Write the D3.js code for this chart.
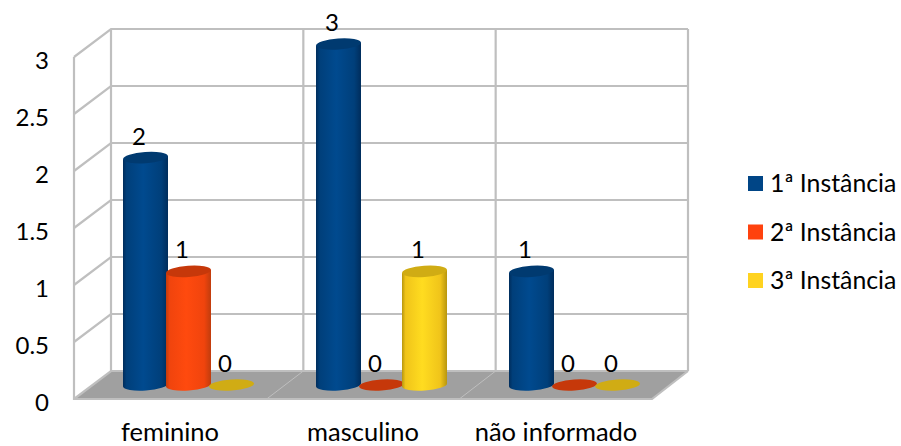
<!DOCTYPE html>
<html><head><meta charset="utf-8">
<script src="https://cdn.jsdelivr.net/npm/d3@7"></script>
<style>html,body{margin:0;background:#fff}svg{display:block}text{font-family:Lato,"Open Sans",sans-serif;fill:#000}</style>
</head><body><svg id="c" width="901" height="446"></svg>
<script>
const categories = ["feminino", "masculino", "não informado"];
const seriesNames = ["1ª Instância", "2ª Instância", "3ª Instância"];
const instancia1 = [2, 3, 1];
const instancia2 = [1, 0, 0];
const instancia3 = [0, 1, 0];
const yTicks = [0, 0.5, 1, 1.5, 2, 2.5, 3];
const sideColors = [["#002d5c", "#004a8f", "#003f7a"], ["#c03c0d", "#ff4a0e", "#f0440d"], ["#b8960f", "#ffdc20", "#f0c41a"]];
const topColors = ["#003a70", "#c6380a", "#d0ac14"];
const legendColors = ["#004586", "#ff420e", "#ffd320"];

const svg = d3.select("#c");
const defs = svg.append("defs");
sideColors.forEach((c, i) => {
  const g = defs.append("linearGradient").attr("id", "g" + i);
  [[0, c[0]], [.08, c[2]], [.45, c[1]], [.85, c[2]], [1, c[0]]].forEach(s =>
    g.append("stop").attr("offset", s[0]).attr("stop-color", s[1]));
});

// axis geometry
const yBack = d3.scaleLinear().domain([0, 3]).range([371, 29]);
const yFront = d3.scaleLinear().domain([0, 3]).range([399, 57]);
const yBar = d3.scaleLinear().domain([0, 3]).range([385, 44]);
const xBack = d3.scaleLinear().domain([0, 3]).range([111, 688]);
const xFront = d3.scaleLinear().domain([0, 3]).range([74, 652]);
const x0 = d3.scaleBand().domain(categories).range([92, 671]);
const x1 = d3.scaleBand().domain(d3.range(3)).range([x0.bandwidth() / 2 - 64.5, x0.bandwidth() / 2 + 64.5]);

const grid = "#bfbfbf";
const walls = svg.append("g").attr("fill", "none").attr("stroke", grid).attr("stroke-width", 2.2);

// floor
const floor = d3.path();
floor.moveTo(xFront(0), yFront(0)); floor.lineTo(xBack(0), yBack(0));
floor.lineTo(xBack(3), yBack(0)); floor.lineTo(xFront(3), yFront(0)); floor.closePath();
svg.insert("path", "g").attr("d", floor).attr("fill", "#a0a0a0");

yTicks.forEach(t => {
  walls.append("path").attr("d", d3.line()([[xFront(0), yFront(t)], [xBack(0), yBack(t)], [xBack(3), yBack(t)]]));
});
[0, 1, 2, 3].forEach(i => walls.append("path").attr("d", d3.line()([[xBack(i), yBack(0)], [xBack(i), yBack(3)]])));
[1, 2].forEach(i => walls.append("path").attr("d", d3.line()([[xFront(i), yFront(0)], [xBack(i), yBack(0)]])).attr("stroke-width", 1));
walls.append("path").attr("d", d3.line()([[xFront(0), yFront(3)], [xFront(0), yFront(0)], [xFront(3), yFront(0)], [xBack(3), yBack(0)]]));

// y tick labels
svg.append("g").selectAll("text").data(yTicks).join("text")
  .attr("x", 49).attr("y", d => yFront(d) + 11.5).attr("text-anchor", "end")
  .attr("font-size", 24).text(d => d);

// category labels
svg.append("g").selectAll("text").data(categories).join("text")
  .attr("x", d => x0(d) + x0.bandwidth() / 2 - 18.5).attr("y", 441).attr("text-anchor", "middle")
  .attr("font-size", 25.5).text(d => d);

// cylinders
const rx = 22.5, ry = 5.6, tilt = -4;
const dy = rx * Math.sin(tilt * Math.PI / 180);
const series = [instancia1, instancia2, instancia3];
const bars = svg.append("g");
series.forEach((vals, s) => {
  vals.forEach((v, c) => {
    const cx = x0(categories[c]) + x1(s) + x1.bandwidth() / 2;
    const yb = yBar(0), yt = yBar(v);
    const g = bars.append("g");
    if (v > 0) {
      const d = `M${cx - rx},${yt - dy}L${cx - rx},${yb - dy}A${rx},${ry} ${tilt} 0 0 ${cx + rx},${yb + dy}L${cx + rx},${yt + dy}Z`;
      g.append("path").attr("d", d).attr("fill", `url(#g${s})`);
    }
    g.append("ellipse").attr("cx", cx).attr("cy", yt).attr("rx", rx).attr("ry", ry)
      .attr("transform", `rotate(${tilt} ${cx} ${yt})`).attr("fill", topColors[s]);
  });
});

// value labels
series.forEach((vals, s) => {
  svg.append("g").selectAll("text").data(vals).join("text")
    .attr("x", (d, c) => x0(categories[c]) + x1(s) + x1.bandwidth() / 2 - 6.5)
    .attr("y", d => yBar(d) - 13).attr("text-anchor", "middle")
    .attr("font-size", 24).text(d => d);
});

// legend
const ly = d3.scalePoint().domain(seriesNames).range([184, 281]);
const leg = svg.append("g").selectAll("g").data(seriesNames).join("g");
leg.append("rect").attr("x", 748).attr("y", d => ly(d) - 8).attr("width", 15).attr("height", 15)
  .attr("fill", (d, i) => legendColors[i]);
leg.append("text").attr("x", 770).attr("y", d => ly(d) + 8).attr("font-size", 24.8).text(d => d);
</script></body></html>
